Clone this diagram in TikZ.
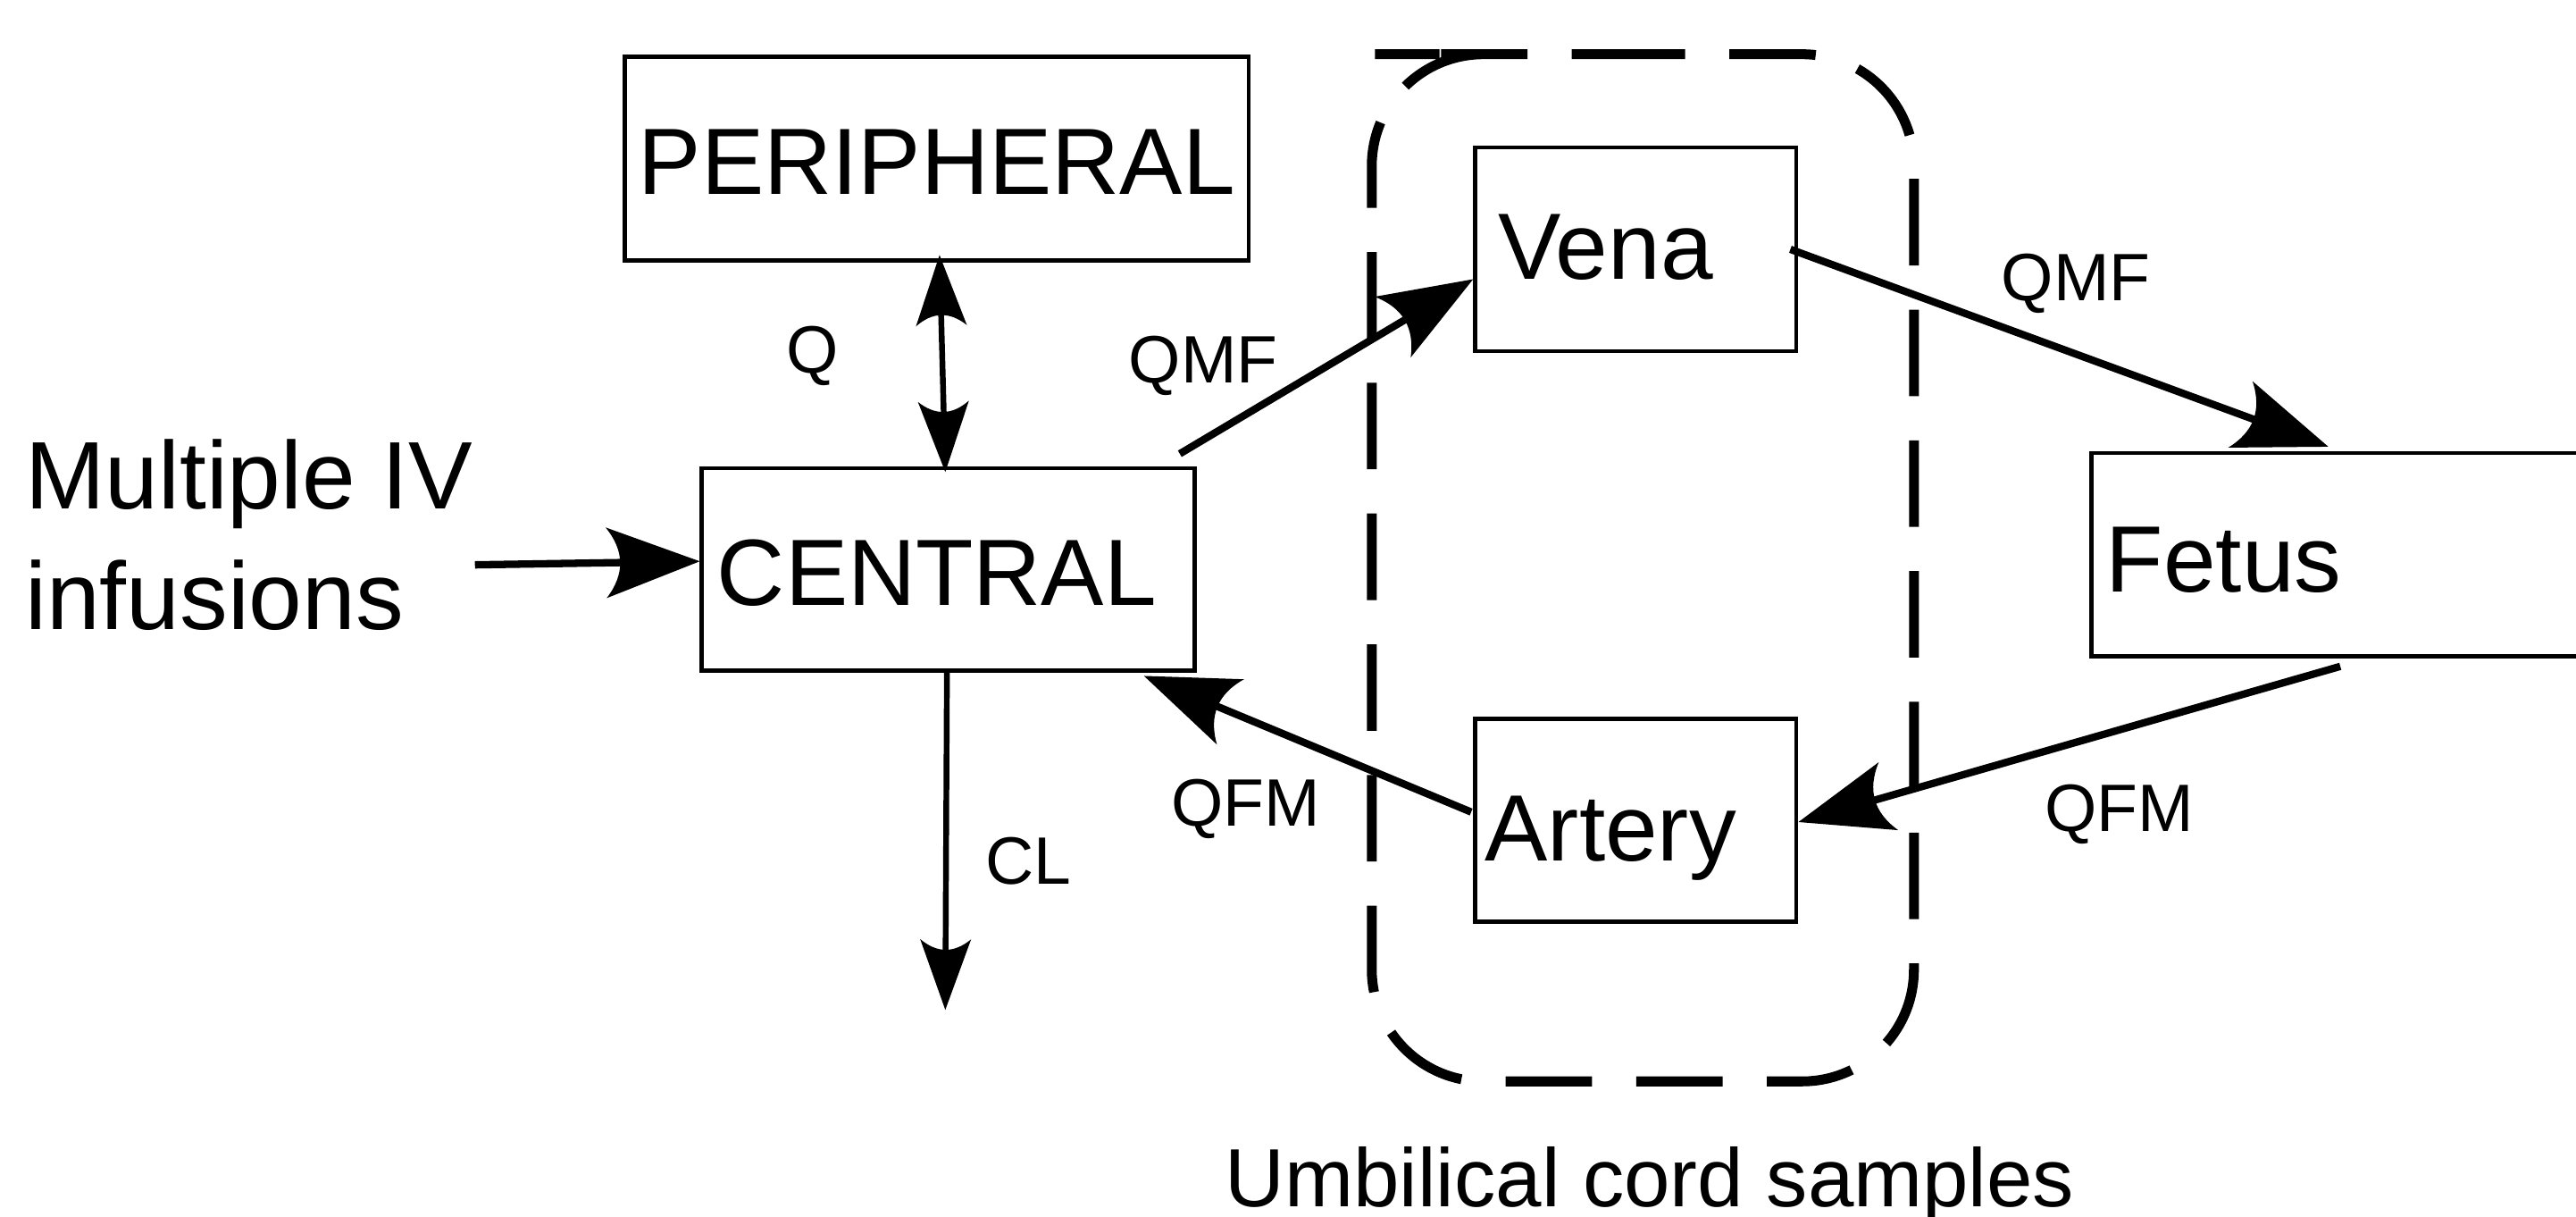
\documentclass[tikz,border=0pt]{standalone}
\usepackage{fontspec}
\setmainfont{Liberation Sans}
\usetikzlibrary{arrows.meta,calc}
\pgfdeclarearrow{
  name = CurvedStealth,
  parameters = {\the\pgfarrowlength,\the\pgfarrowwidth},
  setup code = {
    \pgfarrowssettipend{0pt}
    \pgfarrowssetlineend{-0.8\pgfarrowlength}
    \pgfarrowssetbackend{-\pgfarrowlength}
    \pgfarrowshullpoint{0pt}{0pt}
    \pgfarrowshullpoint{-\pgfarrowlength}{0.5\pgfarrowwidth}
    \pgfarrowshullpoint{-\pgfarrowlength}{-0.5\pgfarrowwidth}
    \pgfarrowssavethe\pgfarrowlength
    \pgfarrowssavethe\pgfarrowwidth
  },
  drawing code = {
    \pgfpathmoveto{\pgfqpoint{0pt}{0pt}}
    \pgfpathlineto{\pgfqpoint{-\pgfarrowlength}{0.5\pgfarrowwidth}}
    \pgfpathquadraticcurveto{\pgfqpoint{-0.7\pgfarrowlength}{0pt}}{\pgfqpoint{-\pgfarrowlength}{-0.5\pgfarrowwidth}}
    \pgfpathclose
    \pgfusepathqfill
  },
  defaults = {length = 5mm, width = 4mm}
}
\begin{document}
\begin{tikzpicture}[x=0.01cm,y=-0.01cm,
  boxnode/.style={draw, line width=0.025cm, inner ysep=0pt, text depth=0pt,
    font=\fontsize{16.3pt}{19pt}\selectfont},
  lbl/.style={font=\fontsize{11.6pt}{14pt}\selectfont, inner sep=0pt, anchor=base},
  bigarr/.style={line width=0.045cm, -{CurvedStealth[length=0.57cm,width=0.43cm]}},
  smallarr/.style={line width=0.035cm, -{CurvedStealth[length=0.43cm,width=0.31cm]}},
  dblarr/.style={line width=0.035cm, {CurvedStealth[length=0.43cm,width=0.31cm]}-{CurvedStealth[length=0.43cm,width=0.31cm]}},
  cordbox/.style={line width=0.06cm, dash pattern=on 0.526cm off 0.269cm, rounded corners=0.68cm}
]
\useasboundingbox (0,0) rectangle (1568,740);
\fill[white] (0,0) rectangle (1568,740);
\clip (0,0) rectangle (1568,740);

% boxes
\node[boxnode, minimum width=3.795cm, minimum height=1.24cm, inner xsep=0pt, text height=0.44cm]
  (peripheral) at (570.2,96.5) {PERIPHERAL};
\node[boxnode, minimum width=2.999cm, minimum height=1.231cm, inner xsep=0.093cm,
  text width=2.813cm, align=left, text height=0.435cm]
  (central) at (577.25,346.55) {CENTRAL};
\node[boxnode, minimum width=1.954cm, minimum height=1.238cm, inner xsep=0.14cm,
  text width=1.674cm, align=left, text height=0.364cm]
  (vena) at (995.7,151.7) {Vena};
\node[boxnode, minimum width=1.954cm, minimum height=1.234cm, inner xsep=0.06cm,
  text width=1.834cm, align=left, text height=0.49cm]
  (artery) at (995.7,499.2) {Artery};
\node[boxnode, minimum width=4cm, minimum height=1.236cm, inner xsep=0.09cm,
  text width=3.82cm, align=left, text height=0.45cm]
  (fetus) at (1473,337.6) {Fetus};

% umbilical cord dashed frame
\draw[cordbox] (905,33) -- (1165,33) -- (1165,658) -- (835,658) -- (835,33) -- cycle;

% free texts
\node[font=\fontsize{16.6pt}{20.9pt}\selectfont, align=left, anchor=base west, inner sep=0pt]
  (infusion) at (14.7,383.1) {Multiple IV\\infusions};
\node[font=\fontsize{14.3pt}{17pt}\selectfont, anchor=base, inner sep=0pt]
  (cordlabel) at (1004.2,734.1) {Umbilical cord samples};

% labels
\node[lbl] (q) at (494.4,226.8) {Q};
\node[lbl] (qmfa) at (732.4,233) {QMF};
\node[lbl] (qmfb) at (1263.6,183.2) {QMF};
\node[lbl] (qfma) at (758.3,502.5) {QFM};
\node[lbl] (qfmb) at (1290,506) {QFM};
\node[lbl] (cl) at (626,538.2) {CL};

% free ends
\coordinate (infstart) at (289.1,343.7);
\coordinate (clend) at (575.4,614.5);

% connectors
\draw[bigarr] (infstart) -- ($(central.west)+(0,-5)$);
\draw[dblarr] ($(peripheral.south)+(1.7,-4.6)$) -- ($(central.north)+(-1.85,3.5)$);
\draw[bigarr] ($(central.north east)+(-10.4,-7.6)$) -- ($(vena.west)+(0,18.2)$);
\draw[bigarr] ($(vena.east)+(-4.9,0)$) -- ($(fetus.north west)+(145.6,-2.7)$);
\draw[bigarr] ($(fetus.south west)+(152.9,4.8)$) -- ($(artery.east)+(0,1)$);
\draw[bigarr] ($(artery.west)+(-1.2,-5.1)$) -- ($(central.south east)+(-32.2,1.9)$);
\draw[smallarr] ($(central.south)+(-0.85,0)$) -- (clend);
\end{tikzpicture}
\end{document}
